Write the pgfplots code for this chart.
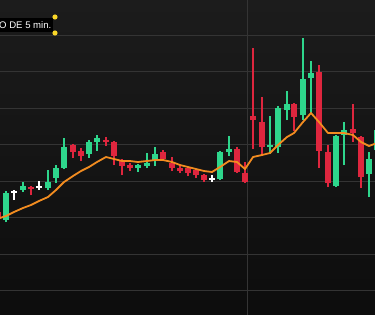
\documentclass[border=0pt]{standalone}
\usepackage{pgfplots}
\usepackage{pgfplotstable}
\usepackage{fontspec}
\setmainfont{Liberation Sans}
\pgfplotsset{compat=1.18}
\definecolor{cgreen}{RGB}{46,214,140}
\definecolor{cred}{RGB}{222,38,62}
\definecolor{corange}{RGB}{242,140,32}
\definecolor{cgrid}{RGB}{52,52,52}
\definecolor{cyel}{RGB}{250,215,40}

\pgfplotstableread{
x h l a b
6 191 222 193 220
23 182 192 186 190
48 170 190 182 188
56 165 183 168 178
64 138 169 147 168
89 140 158 142 154
97 135 151 138 142
138 164 172 165 168
147 153 168 163 166
155 147 166 154 161
220 151 180 152 179
229 136 156 149 152
270 116 154 145 147
278 106 153 108 147
287 91 120 104 110
303 38 120 79 115
311 61 113 73 78
336 135 187 136 186
344 122 165 130 135
369 152 197 159 174
377 125 155 130 150
}\greendata

\pgfplotstableread{
x h l a b
-2 208 222 212 218
31 186 195 187 189
73 144 158 145 152
81 148 161 151 156
106 137 146 140 142
114 141 165 142 156
122 159 175 160 166
130 163 171 165 168
163 150 161 152 159
172 157 171 163 168
180 165 173 168 171
188 167 176 168 173
196 169 178 170 175
204 174 182 175 180
237 147 173 149 172
245 162 183 173 182
253 48 149 116 120
262 97 156 122 147
294 103 131 104 117
319 65 168 72 151
328 145 187 152 183
353 104 142 129 133
361 136 188 137 177
}\reddata

\pgfplotstableread{
x h l a b
14 190 200 192 192
39 181 190 187 187
212 175 182 179 179
}\whitedata

\pgfplotstableread{
x y
0 218
6 216
14 212
23 208
31 205
39 201
48 197
56 190
64 182
73 176
81 171
89 167
97 162
106 157
114 159
122 161
130 161
138 162
147 161
155 160
163 160
172 162
180 165
188 167
196 169
204 171
212 172
220 167
229 161
237 162
245 169
253 157
262 155
270 153
278 145
287 137
294 133
303 122
311 113
319 122
328 133
336 133
344 133
353 135
361 142
369 146
377 143
}\madata

\pgfplotsset{
  wick/.style={draw=none, mark=none, forget plot,
    error bars/.cd, y dir=minus, y explicit, error mark=none,
    error bar style={solid, line width=1.1bp, draw=#1}},
  body/.style={draw=none, mark=none, forget plot,
    error bars/.cd, y dir=minus, y explicit, error mark=none,
    error bar style={solid, line width=6bp, draw=#1}},
}

\begin{document}
\begin{tikzpicture}
\begin{axis}[
  scale only axis, width=375bp, height=315bp,
  xmin=0, xmax=375, ymin=0, ymax=315, y dir=reverse,
  axis line style={draw=none},
  axis background/.style={top color=black!89, bottom color=black!95},
  xtick={247}, ytick={35,71.5,108,144.5,181,217.5,254,290.5},
  xticklabels={}, yticklabels={}, major tick length=0pt,
  grid=major, major grid style={cgrid, line width=0.8bp},
]
\addplot[wick=cgreen] table[x=x, y=l, y error minus expr=\thisrow{l}-\thisrow{h}] {\greendata};
\addplot[body=cgreen] table[x=x, y expr={max(\thisrow{a},\thisrow{b})}, y error minus expr={max(abs(\thisrow{a}-\thisrow{b}),1.3)}] {\greendata};
\addplot[wick=cred] table[x=x, y=l, y error minus expr=\thisrow{l}-\thisrow{h}] {\reddata};
\addplot[body=cred] table[x=x, y expr={max(\thisrow{a},\thisrow{b})}, y error minus expr={max(abs(\thisrow{a}-\thisrow{b}),1.3)}] {\reddata};
\addplot[wick=white] table[x=x, y=l, y error minus expr=\thisrow{l}-\thisrow{h}] {\whitedata};
\addplot[body=white] table[x=x, y expr={max(\thisrow{a},\thisrow{b})+0.6}, y error minus expr={1.3}] {\whitedata};
\addplot[corange, line width=1.8bp, no marks, line join=round] table[x=x, y=y] {\madata};
\node[fill=black, text=white, anchor=east, inner sep=1.5bp, minimum height=14bp, font=\fontsize{9.6}{11}\selectfont] at (axis cs:53,25) {O DE 5 min.};
\fill[cyel] (axis cs:55,17) circle (2.6bp);
\fill[cyel] (axis cs:55,33) circle (2.6bp);
\end{axis}
\pgfresetboundingbox
\useasboundingbox (current axis.south west) rectangle (current axis.north east);
\end{tikzpicture}
\end{document}
